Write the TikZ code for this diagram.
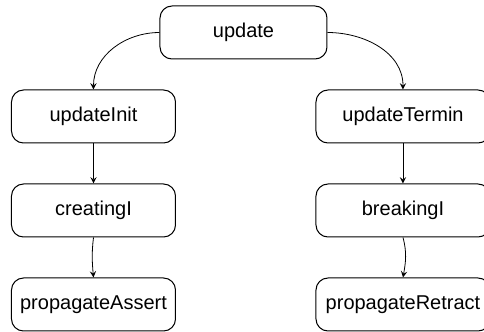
\documentclass[tikz,border=0pt]{standalone}
\usepackage{fontspec}
\setmainfont{Liberation Sans}
\begin{document}
\begin{tikzpicture}[
    x=0.5pt, y=-0.5pt,
    node distance=47pt,
    block/.style={rectangle, draw, line width=0.5pt, minimum width=82pt, minimum height=26.5pt, rounded corners=6pt, font=\fontsize{10}{12}\selectfont},
    wideblock/.style={block, minimum width=87pt},
    arrow/.style={line width=0.4pt, ->, > = stealth}
]
    \useasboundingbox (0,0) rectangle (484,332);

    \node [block, minimum width=83.5pt] (update) at (243.5,32.5) {update};

    \node [block] (updateInit) at (93.5,116.5) {updateInit};
    \node [block, below of=updateInit] (creatingI) {creatingI};
    \node [block, below of=creatingI] (propagateAssert) {propagateAssert};

    \node [wideblock] (updateTermin) at (403,116.5) {updateTermin};
    \node [wideblock, below of=updateTermin] (breakingI) {breakingI};
    \node [wideblock, below of=breakingI] (propagateRetract) {propagateRetract};

    \draw [arrow] (update.west) to[out=180, in=90] (updateInit.north);
    \draw [arrow] (update.east) to[out=0, in=90] (updateTermin.north);
    \draw [arrow] (updateInit) -- (creatingI);
    \draw [arrow] (creatingI.south) to[out=-97, in=95] (propagateAssert.north);
    \draw [arrow] (updateTermin) -- (breakingI);
    \draw [arrow] (breakingI.south) to[out=-75, in=80] (propagateRetract.north);
\end{tikzpicture}
\end{document}
